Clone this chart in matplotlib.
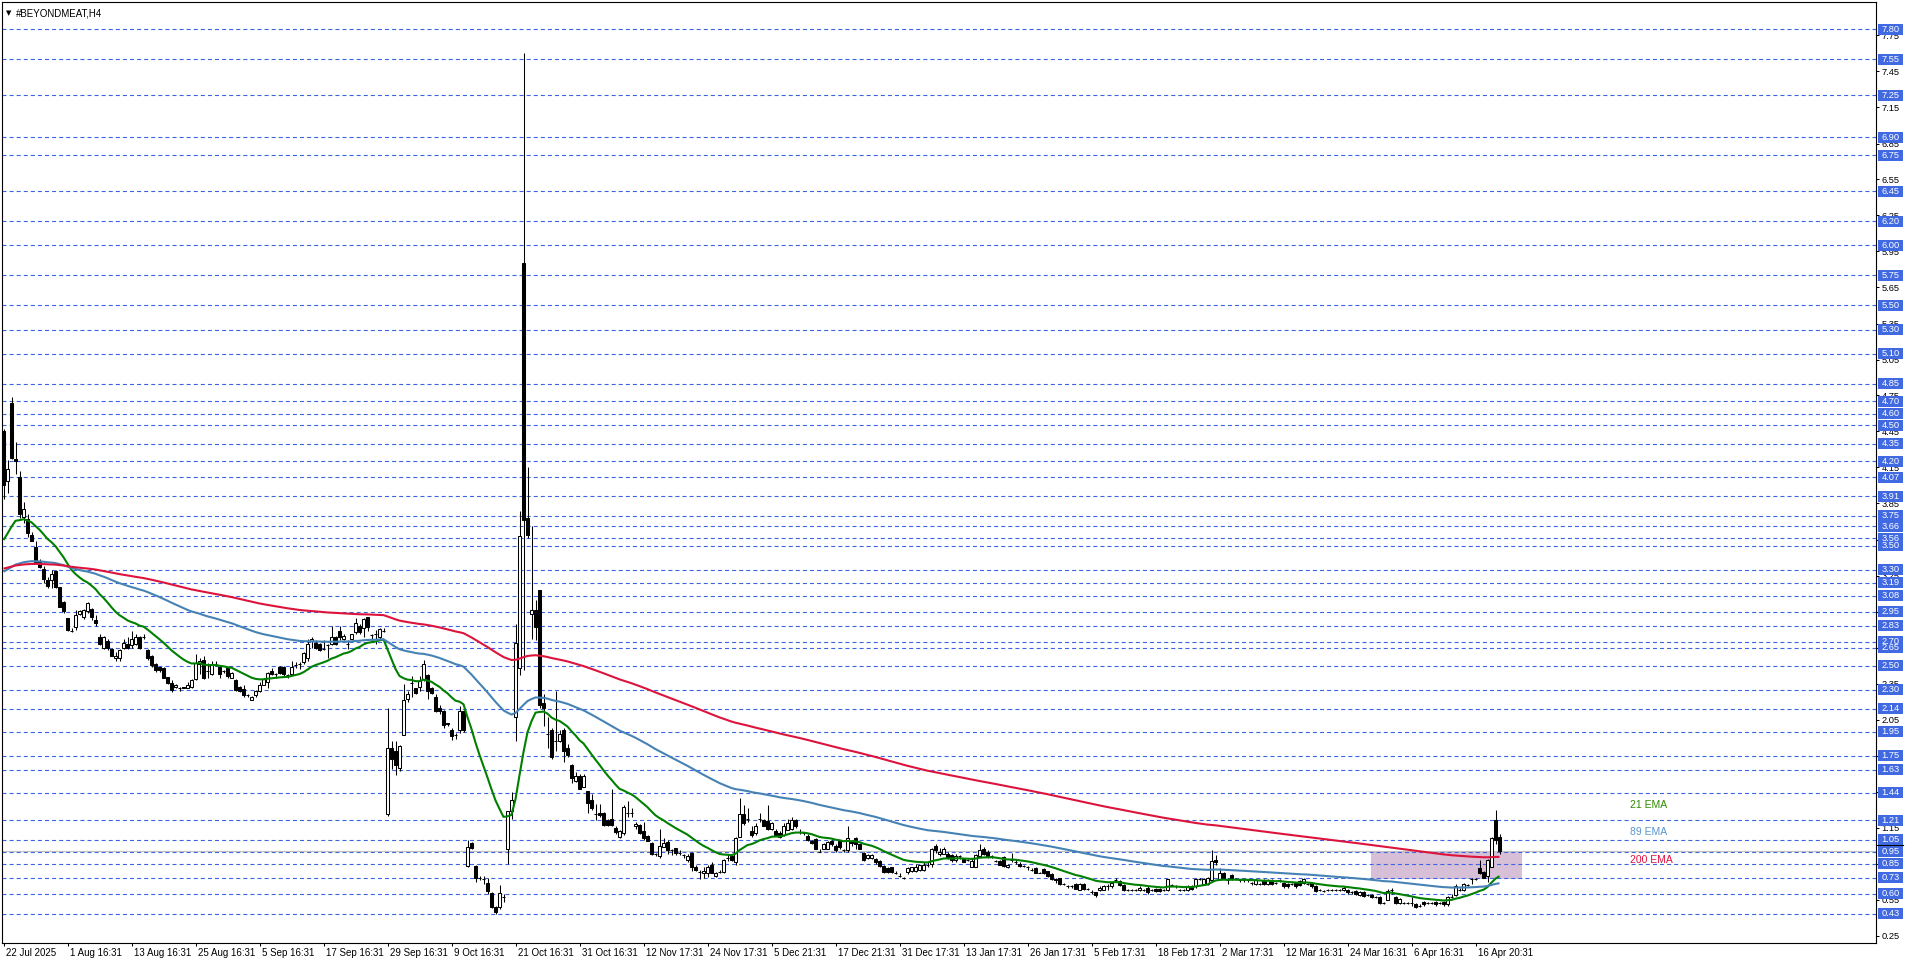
import matplotlib
matplotlib.use('Agg')
import matplotlib.pyplot as plt
import matplotlib.transforms as mtransforms
from matplotlib.patches import Rectangle

plt.rcParams['font.family'] = ['Liberation Sans', 'DejaVu Sans']
plt.rcParams['lines.scale_dashes'] = False

# --- data: H4 bars ---
opens = [
    4.45, 4.04, 4.69, 4.22, 4.07, 3.74, 3.72, 3.59, 3.49, 3.37,
    3.30, 3.21, 3.21, 3.29, 3.15, 3.03, 2.90, 2.79, 2.82, 2.93,
    2.90, 2.95, 2.97, 2.88, 2.74, 2.65, 2.70, 2.64, 2.56, 2.56,
    2.65, 2.68, 2.67, 2.68, 2.74, 2.74, 2.63, 2.58, 2.51, 2.49,
    2.48, 2.40, 2.35, 2.32, 2.31, 2.32, 2.31, 2.32, 2.39, 2.51,
    2.55, 2.45, 2.43, 2.51, 2.49, 2.45, 2.48, 2.40, 2.38, 2.32,
    2.30, 2.25, 2.21, 2.25, 2.29, 2.34, 2.36, 2.45, 2.43, 2.49,
    2.49, 2.42, 2.43, 2.50, 2.51, 2.53, 2.56, 2.70, 2.69, 2.68,
    2.64, 2.67, 2.68, 2.74, 2.79, 2.72, 2.68, 2.72, 2.78, 2.83,
    2.81, 2.90, 2.75, 2.76, 2.74, 2.79, 1.26, 1.81, 1.79, 1.65,
    1.92, 2.22, 2.35, 2.31, 2.32, 2.39, 2.42, 2.31, 2.24, 2.15,
    2.12, 2.01, 1.96, 1.92, 1.96, 2.12, 0.83, 1.02, 0.83, 0.73,
    0.72, 0.69, 0.60, 0.49, 0.49, 0.57, 0.97, 1.29, 2.07, 2.48,
    5.85, 3.73, 2.93, 2.96, 3.13, 2.19, 1.93, 1.96, 1.87, 1.87,
    1.96, 1.81, 1.67, 1.54, 1.58, 1.49, 1.45, 1.38, 1.26, 1.27,
    1.27, 1.21, 1.22, 1.15, 1.07, 1.10, 1.27, 1.27, 1.16, 1.17,
    1.12, 1.08, 1.02, 0.93, 0.91, 0.99, 1.03, 0.96, 0.98, 0.94,
    0.92, 0.88, 0.94, 0.82, 0.78, 0.77, 0.77, 0.84, 0.75, 0.78,
    0.78, 0.90, 0.91, 0.86, 1.07, 1.26, 1.22, 1.12, 1.10, 1.22,
    1.21, 1.20, 1.14, 1.12, 1.10, 1.09, 1.13, 1.14, 1.21, 1.11,
    1.10, 1.08, 1.04, 1.05, 0.95, 0.97, 0.97, 1.04, 1.00, 1.04,
    0.96, 0.96, 1.04, 1.06, 1.01, 0.94, 0.90, 0.90, 0.89, 0.87,
    0.83, 0.81, 0.82, 0.77, 0.75, 0.73, 0.78, 0.79, 0.79, 0.80,
    0.80, 0.84, 0.85, 1.00, 0.93, 0.93, 0.93, 0.92, 0.88, 0.91,
    0.89, 0.88, 0.82, 0.82, 0.91, 0.97, 0.95, 0.91, 0.87, 0.87,
    0.90, 0.82, 0.88, 0.86, 0.85, 0.83, 0.82, 0.80, 0.81, 0.77,
    0.80, 0.79, 0.76, 0.72, 0.73, 0.68, 0.66, 0.66, 0.68, 0.63,
    0.68, 0.64, 0.61, 0.61, 0.63, 0.63, 0.66, 0.66, 0.71, 0.70,
    0.67, 0.63, 0.63, 0.63, 0.63, 0.63, 0.65, 0.63, 0.64, 0.64,
    0.63, 0.63, 0.67, 0.66, 0.63, 0.63, 0.63, 0.66, 0.66, 0.72,
    0.68, 0.68, 0.71, 0.88, 0.72, 0.77, 0.71, 0.75, 0.72, 0.71,
    0.71, 0.71, 0.69, 0.68, 0.68, 0.71, 0.68, 0.71, 0.69, 0.71,
    0.69, 0.68, 0.68, 0.69, 0.70, 0.69, 0.68, 0.69, 0.66, 0.63,
    0.62, 0.63, 0.63, 0.63, 0.63, 0.63, 0.63, 0.61, 0.62, 0.59,
    0.61, 0.59, 0.59, 0.57, 0.57, 0.52, 0.55, 0.63, 0.57, 0.52,
    0.52, 0.52, 0.52, 0.51, 0.50, 0.53, 0.52, 0.52, 0.53, 0.52,
    0.53, 0.51, 0.57, 0.59, 0.63, 0.63, 0.67, 0.72, 0.72, 0.81,
    0.78, 0.75, 0.82, 1.21, 1.07,
]
highs = [
    4.47, 4.21, 4.74, 4.36, 4.12, 3.86, 3.76, 3.61, 3.54, 3.39,
    3.33, 3.24, 3.30, 3.30, 3.15, 3.04, 2.90, 2.81, 2.96, 2.96,
    2.97, 3.03, 2.98, 2.92, 2.76, 2.75, 2.72, 2.65, 2.61, 2.64,
    2.72, 2.74, 2.79, 2.76, 2.75, 2.76, 2.64, 2.59, 2.52, 2.49,
    2.49, 2.40, 2.38, 2.35, 2.32, 2.32, 2.36, 2.39, 2.60, 2.56,
    2.58, 2.52, 2.54, 2.54, 2.50, 2.46, 2.49, 2.45, 2.39, 2.33,
    2.34, 2.26, 2.25, 2.30, 2.36, 2.40, 2.45, 2.48, 2.44, 2.50,
    2.50, 2.43, 2.54, 2.53, 2.53, 2.61, 2.72, 2.74, 2.71, 2.69,
    2.71, 2.68, 2.83, 2.75, 2.83, 2.76, 2.71, 2.76, 2.90, 2.85,
    2.90, 2.90, 2.76, 2.80, 2.81, 2.81, 2.15, 1.87, 1.87, 1.84,
    2.35, 2.29, 2.41, 2.31, 2.41, 2.55, 2.43, 2.32, 2.26, 2.17,
    2.13, 2.02, 1.98, 1.94, 2.16, 2.13, 1.05, 1.03, 0.84, 0.75,
    0.75, 0.73, 0.61, 0.50, 0.67, 0.60, 1.29, 1.45, 2.85, 3.79,
    7.60, 4.15, 3.66, 3.05, 3.13, 2.26, 2.07, 1.98, 2.29, 1.96,
    1.98, 1.85, 1.68, 1.61, 1.60, 1.60, 1.45, 1.43, 1.35, 1.35,
    1.28, 1.22, 1.47, 1.16, 1.13, 1.34, 1.37, 1.31, 1.20, 1.18,
    1.20, 1.09, 1.03, 0.94, 1.14, 1.06, 1.05, 0.97, 0.98, 0.96,
    0.93, 0.93, 0.95, 0.84, 0.80, 0.82, 0.84, 0.86, 0.78, 0.80,
    0.89, 0.93, 0.92, 1.07, 1.40, 1.34, 1.31, 1.16, 1.19, 1.27,
    1.22, 1.34, 1.20, 1.14, 1.12, 1.19, 1.22, 1.24, 1.22, 1.14,
    1.11, 1.10, 1.05, 1.06, 0.97, 1.02, 1.04, 1.05, 1.01, 1.05,
    0.97, 1.16, 1.05, 1.07, 1.02, 0.95, 0.93, 0.93, 0.90, 0.88,
    0.84, 0.82, 0.82, 0.79, 0.77, 0.74, 0.82, 0.82, 0.85, 0.84,
    0.86, 0.86, 0.98, 1.01, 0.98, 0.99, 0.95, 0.93, 0.93, 0.92,
    0.90, 0.89, 0.90, 0.93, 1.01, 0.99, 0.96, 0.92, 0.88, 0.88,
    0.91, 0.85, 0.94, 0.88, 0.86, 0.84, 0.83, 0.81, 0.82, 0.78,
    0.81, 0.79, 0.77, 0.73, 0.73, 0.69, 0.67, 0.67, 0.69, 0.69,
    0.69, 0.65, 0.63, 0.61, 0.66, 0.67, 0.68, 0.70, 0.73, 0.71,
    0.68, 0.64, 0.64, 0.64, 0.66, 0.64, 0.66, 0.64, 0.65, 0.65,
    0.64, 0.72, 0.68, 0.67, 0.64, 0.64, 0.67, 0.67, 0.73, 0.73,
    0.73, 0.74, 0.96, 0.92, 0.81, 0.78, 0.73, 0.76, 0.73, 0.72,
    0.72, 0.72, 0.70, 0.72, 0.69, 0.72, 0.72, 0.72, 0.70, 0.72,
    0.70, 0.69, 0.69, 0.70, 0.71, 0.73, 0.69, 0.70, 0.67, 0.64,
    0.63, 0.64, 0.64, 0.64, 0.64, 0.66, 0.64, 0.62, 0.63, 0.62,
    0.62, 0.60, 0.60, 0.58, 0.58, 0.53, 0.64, 0.65, 0.58, 0.56,
    0.53, 0.53, 0.57, 0.52, 0.51, 0.54, 0.53, 0.53, 0.54, 0.53,
    0.54, 0.58, 0.60, 0.68, 0.65, 0.69, 0.68, 0.73, 0.73, 0.88,
    0.79, 0.89, 1.07, 1.30, 1.10,
]
lows = [
    3.89, 3.94, 4.22, 4.10, 3.73, 3.69, 3.57, 3.54, 3.35, 3.31,
    3.19, 3.15, 3.15, 3.15, 2.99, 2.94, 2.79, 2.78, 2.80, 2.92,
    2.89, 2.94, 2.88, 2.83, 2.67, 2.64, 2.63, 2.58, 2.54, 2.54,
    2.64, 2.64, 2.65, 2.67, 2.64, 2.72, 2.55, 2.49, 2.45, 2.45,
    2.40, 2.35, 2.28, 2.31, 2.29, 2.31, 2.31, 2.31, 2.38, 2.43,
    2.39, 2.40, 2.42, 2.50, 2.40, 2.44, 2.40, 2.40, 2.29, 2.28,
    2.24, 2.24, 2.21, 2.24, 2.28, 2.34, 2.31, 2.42, 2.40, 2.43,
    2.41, 2.40, 2.42, 2.48, 2.47, 2.51, 2.54, 2.65, 2.64, 2.62,
    2.63, 2.56, 2.67, 2.67, 2.71, 2.71, 2.64, 2.72, 2.76, 2.76,
    2.74, 2.79, 2.70, 2.68, 2.72, 2.78, 1.25, 1.64, 1.59, 1.62,
    1.92, 2.20, 2.24, 2.26, 2.29, 2.37, 2.22, 2.26, 2.11, 2.10,
    1.98, 2.00, 1.88, 1.89, 1.94, 1.95, 0.82, 0.97, 0.70, 0.71,
    0.68, 0.60, 0.48, 0.43, 0.47, 0.53, 0.85, 1.22, 1.87, 2.42,
    2.46, 3.56, 2.72, 2.71, 2.15, 2.00, 1.81, 1.72, 1.79, 1.86,
    1.70, 1.74, 1.52, 1.53, 1.47, 1.49, 1.27, 1.30, 1.21, 1.24,
    1.16, 1.16, 1.16, 1.10, 1.06, 1.09, 1.24, 1.24, 1.14, 1.10,
    1.05, 1.04, 0.92, 0.91, 0.90, 0.99, 0.93, 0.92, 0.92, 0.92,
    0.90, 0.86, 0.79, 0.79, 0.72, 0.73, 0.74, 0.77, 0.74, 0.77,
    0.77, 0.87, 0.87, 0.84, 1.07, 1.17, 1.20, 1.07, 1.09, 1.20,
    1.16, 1.13, 1.13, 1.09, 1.06, 1.08, 1.13, 1.13, 1.15, 1.10,
    1.09, 1.04, 1.01, 0.97, 0.95, 0.97, 0.97, 1.00, 0.95, 0.97,
    0.95, 0.95, 1.00, 0.97, 0.97, 0.87, 0.89, 0.89, 0.85, 0.82,
    0.77, 0.77, 0.77, 0.76, 0.74, 0.72, 0.76, 0.78, 0.78, 0.79,
    0.79, 0.82, 0.82, 0.94, 0.91, 0.93, 0.89, 0.86, 0.86, 0.89,
    0.86, 0.87, 0.82, 0.82, 0.91, 0.92, 0.90, 0.90, 0.86, 0.84,
    0.82, 0.81, 0.86, 0.85, 0.82, 0.82, 0.80, 0.79, 0.77, 0.77,
    0.76, 0.74, 0.71, 0.69, 0.67, 0.67, 0.65, 0.65, 0.64, 0.63,
    0.63, 0.63, 0.60, 0.57, 0.62, 0.63, 0.63, 0.65, 0.70, 0.66,
    0.62, 0.62, 0.62, 0.62, 0.62, 0.62, 0.60, 0.62, 0.61, 0.61,
    0.62, 0.62, 0.66, 0.65, 0.62, 0.62, 0.62, 0.63, 0.65, 0.71,
    0.67, 0.67, 0.70, 0.84, 0.71, 0.72, 0.68, 0.71, 0.71, 0.70,
    0.70, 0.70, 0.67, 0.67, 0.67, 0.67, 0.67, 0.67, 0.68, 0.70,
    0.65, 0.65, 0.67, 0.65, 0.66, 0.68, 0.67, 0.65, 0.61, 0.62,
    0.61, 0.62, 0.62, 0.62, 0.62, 0.62, 0.60, 0.60, 0.59, 0.58,
    0.57, 0.58, 0.56, 0.56, 0.51, 0.51, 0.55, 0.60, 0.51, 0.51,
    0.51, 0.51, 0.50, 0.48, 0.49, 0.50, 0.51, 0.51, 0.50, 0.51,
    0.50, 0.50, 0.56, 0.58, 0.62, 0.62, 0.66, 0.68, 0.71, 0.76,
    0.73, 0.70, 0.82, 1.01, 0.93,
]
closes = [
    4.00, 4.14, 4.23, 4.20, 3.76, 3.80, 3.60, 3.54, 3.36, 3.32,
    3.22, 3.16, 3.26, 3.15, 2.99, 2.95, 2.80, 2.79, 2.92, 2.95,
    2.96, 3.02, 2.90, 2.85, 2.68, 2.74, 2.65, 2.58, 2.58, 2.63,
    2.69, 2.65, 2.72, 2.74, 2.65, 2.74, 2.56, 2.50, 2.46, 2.46,
    2.40, 2.35, 2.30, 2.34, 2.31, 2.31, 2.34, 2.38, 2.52, 2.54,
    2.40, 2.45, 2.51, 2.51, 2.43, 2.45, 2.41, 2.44, 2.30, 2.29,
    2.25, 2.25, 2.24, 2.29, 2.34, 2.39, 2.44, 2.43, 2.43, 2.44,
    2.43, 2.42, 2.49, 2.50, 2.51, 2.60, 2.68, 2.72, 2.65, 2.63,
    2.64, 2.67, 2.74, 2.68, 2.74, 2.75, 2.68, 2.76, 2.85, 2.78,
    2.89, 2.82, 2.75, 2.76, 2.80, 2.79, 1.81, 1.72, 1.67, 1.83,
    2.21, 2.26, 2.35, 2.27, 2.37, 2.51, 2.29, 2.27, 2.12, 2.12,
    2.00, 2.02, 1.91, 1.92, 2.12, 1.96, 0.99, 0.98, 0.73, 0.73,
    0.72, 0.62, 0.49, 0.45, 0.60, 0.57, 1.29, 1.38, 2.69, 3.58,
    3.71, 3.59, 2.96, 2.82, 2.17, 2.15, 1.93, 1.74, 1.87, 1.93,
    1.79, 1.75, 1.56, 1.58, 1.47, 1.58, 1.35, 1.31, 1.26, 1.25,
    1.17, 1.17, 1.17, 1.11, 1.12, 1.32, 1.27, 1.27, 1.18, 1.10,
    1.06, 1.04, 0.93, 0.93, 1.00, 1.02, 0.96, 0.96, 0.94, 0.94,
    0.92, 0.91, 0.82, 0.80, 0.78, 0.79, 0.82, 0.77, 0.77, 0.78,
    0.88, 0.90, 0.88, 1.06, 1.26, 1.19, 1.22, 1.09, 1.16, 1.22,
    1.16, 1.14, 1.19, 1.09, 1.07, 1.16, 1.19, 1.21, 1.16, 1.11,
    1.10, 1.05, 1.02, 0.97, 0.95, 1.01, 1.03, 1.01, 0.96, 0.99,
    0.96, 1.06, 1.02, 1.01, 0.97, 0.88, 0.92, 0.92, 0.86, 0.83,
    0.78, 0.78, 0.78, 0.77, 0.75, 0.73, 0.81, 0.82, 0.82, 0.84,
    0.84, 0.84, 0.97, 0.96, 0.95, 0.97, 0.90, 0.88, 0.91, 0.91,
    0.86, 0.88, 0.87, 0.92, 0.96, 0.93, 0.91, 0.91, 0.87, 0.84,
    0.83, 0.84, 0.88, 0.86, 0.83, 0.83, 0.82, 0.80, 0.77, 0.77,
    0.77, 0.75, 0.72, 0.71, 0.68, 0.68, 0.66, 0.66, 0.64, 0.68,
    0.64, 0.64, 0.61, 0.59, 0.65, 0.66, 0.66, 0.69, 0.71, 0.67,
    0.63, 0.63, 0.63, 0.63, 0.65, 0.63, 0.61, 0.63, 0.62, 0.62,
    0.63, 0.72, 0.67, 0.66, 0.63, 0.63, 0.66, 0.64, 0.72, 0.72,
    0.72, 0.73, 0.87, 0.86, 0.77, 0.73, 0.71, 0.72, 0.72, 0.71,
    0.71, 0.71, 0.69, 0.71, 0.68, 0.68, 0.71, 0.68, 0.69, 0.71,
    0.66, 0.66, 0.68, 0.66, 0.67, 0.72, 0.68, 0.66, 0.62, 0.63,
    0.62, 0.63, 0.63, 0.63, 0.63, 0.65, 0.61, 0.61, 0.60, 0.61,
    0.58, 0.59, 0.57, 0.57, 0.52, 0.52, 0.62, 0.63, 0.52, 0.55,
    0.52, 0.52, 0.52, 0.49, 0.50, 0.51, 0.52, 0.52, 0.51, 0.52,
    0.51, 0.57, 0.57, 0.66, 0.63, 0.68, 0.67, 0.72, 0.72, 0.77,
    0.73, 0.88, 1.06, 1.05, 0.955,
]

# EMA periods and the value each line starts from at the left edge
ema_periods = [21, 89, 200]
ema_seeds = [3.50, 3.265, 3.30]
ema_names = ['21 EMA', '89 EMA', '200 EMA']
ema_label_prices = [1.34, 1.11, 0.88]

# horizontal levels (blue labels on the price axis)
levels = [7.80, 7.55, 7.25, 6.90, 6.75, 6.45, 6.20, 6.00, 5.75, 5.50,
          5.30, 5.10, 4.85, 4.70, 4.60, 4.50, 4.35, 4.20, 4.07, 3.91,
          3.75, 3.66, 3.56, 3.50, 3.30, 3.19, 3.08, 2.95, 2.83, 2.70,
          2.65, 2.50, 2.30, 2.14, 1.95, 1.75, 1.63, 1.44, 1.21, 1.05,
          0.95, 0.85, 0.73, 0.60, 0.43]
bid_price = 0.953
zone_bars = [341.9, 379.6]
zone_prices = [0.721, 0.946]

time_labels = ['22 Jul 2025', '1 Aug 16:31', '13 Aug 16:31', '25 Aug 16:31',
               '5 Sep 16:31', '17 Sep 16:31', '29 Sep 16:31', '9 Oct 16:31',
               '21 Oct 16:31', '31 Oct 16:31', '12 Nov 17:31', '24 Nov 17:31',
               '5 Dec 21:31', '17 Dec 21:31', '31 Dec 17:31', '13 Jan 17:31',
               '26 Jan 17:31', '5 Feb 17:31', '18 Feb 17:31', '2 Mar 17:31',
               '12 Mar 16:31', '24 Mar 16:31', '6 Apr 16:31', '16 Apr 20:31']
bars_per_label = 16


def ema(vals, n, seed):
    a = 2.0 / (n + 1)
    out = []
    e = seed
    for v in vals:
        e = e + a * (v - e)
        out.append(e)
    return out


# --- figure geometry (pixels) ---
W, H = 1916, 963
L_PX, R_PX, T_PX, B_PX = 2, 1876, 2, 942.5
BAR_PX, X0_PX = 4.0, 3.5
PX_PER_UNIT, Y780_PX = 120.0, 29.5

fig = plt.figure(figsize=(W / 100, H / 100), dpi=100)
fig.patch.set_facecolor('white')
ax = fig.add_axes([L_PX / W, 1 - B_PX / H, (R_PX - L_PX) / W, (B_PX - T_PX) / H])
ax.set_xlim((L_PX - X0_PX) / BAR_PX, (R_PX - X0_PX) / BAR_PX)
ax.set_ylim(7.80 - (B_PX - Y780_PX) / PX_PER_UNIT, 7.80 - (T_PX - Y780_PX) / PX_PER_UNIT)

# zone rectangle
ax.add_patch(Rectangle((zone_bars[0], zone_prices[0]), zone_bars[1] - zone_bars[0],
                       zone_prices[1] - zone_prices[0], facecolor='#D8BFD8',
                       edgecolor='none', zorder=1))

# dashed levels + bid line
for lv in levels:
    ax.axhline(lv, color='#3A64E0', lw=0.8, dashes=(2.9, 2.2), zorder=2)
ax.axhline(bid_price, color='#C0C0C0', lw=0.8, zorder=2.2)

# candles
xs = list(range(len(closes)))
ax.vlines(xs, lows, highs, color='black', lw=0.75, zorder=3)
bottoms = [min(o, c) for o, c in zip(opens, closes)]
heights = [abs(c - o) for o, c in zip(opens, closes)]
faces = ['white' if c > o else 'black' for o, c in zip(opens, closes)]
ax.bar(xs, heights, bottom=bottoms, width=0.75, color=faces, edgecolor='black',
       linewidth=0.75, zorder=4)

# EMAs
ema_colors = ['#008000', '#4682B4', '#DC143C']
for n, s, col in zip(ema_periods, ema_seeds, ema_colors):
    ax.plot(xs, ema(closes, n, s), color=col, lw=1.5, zorder=5, solid_capstyle='butt')

label_colors = ['#2E8B00', '#5B95D0', '#E0103C']
for name, p, col in zip(ema_names, ema_label_prices, label_colors):
    ax.text(406.6, p, name, color=col, fontsize=7.5, ha='left', va='center', zorder=6)

# axes styling
for sp in ax.spines.values():
    sp.set_color('black')
    sp.set_linewidth(0.8)

ax.yaxis.tick_right()
yt = [round(0.25 + 0.30 * k, 2) for k in range(26)]
ax.set_yticks(yt)
ax.set_yticklabels([f'{v:.2f}' for v in yt])
ax.tick_params(axis='y', direction='out', length=2.5, width=0.75, pad=1.5,
               labelsize=6.7, colors='black')

xt = [k * bars_per_label for k in range(len(time_labels))]
ax.set_xticks(xt)
ax.set_xticklabels(time_labels, ha='left')
ax.tick_params(axis='x', direction='out', length=2.5, width=0.75, pad=1.5,
               labelsize=7, colors='black')
shift = mtransforms.ScaledTranslation(2 / 100, 0, fig.dpi_scale_trans)
for lab in ax.get_xticklabels():
    lab.set_transform(lab.get_transform() + shift)

# blue price boxes on the axis
ytr = ax.get_yaxis_transform()
span = R_PX - L_PX
bx0 = (1878 - L_PX) / span
bw = 25 / span
bh = 11 / PX_PER_UNIT
for lv in levels:
    ax.add_patch(Rectangle((bx0, lv - bh / 2), bw, bh, transform=ytr,
                           facecolor='#4169E1', edgecolor='none', clip_on=False, zorder=10))
    ax.text(bx0 + bw / 2, lv, f'{lv:.2f}', transform=ytr, color='white', fontsize=6.7,
            ha='center', va='center', clip_on=False, zorder=11)
ax.plot([1.0, bx0 + bw], [1.004, 1.004], transform=ytr, color='black', lw=0.8,
        clip_on=False, zorder=12)

# title
fig.text(6 / W, 1 - 13 / H, '\u25bc', fontsize=5, family='DejaVu Sans', va='center', ha='left')
fig.text(16 / W, 1 - 13 / H, '#BEYONDMEAT,H4', fontsize=7, va='center', ha='left')

fig.savefig('out.png', dpi=100, facecolor='white')
